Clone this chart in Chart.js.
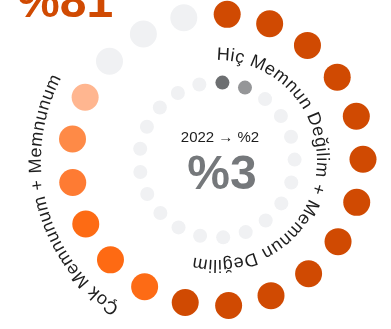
<!DOCTYPE html>
<html lang="tr">
<head>
<meta charset="utf-8">
<script src="https://cdn.jsdelivr.net/npm/chart.js@4"></script>
<style>
  html, body { margin: 0; padding: 0; background: #ffffff; }
  #wrap { width: 391px; height: 329px; overflow: hidden; }
</style>
</head>
<body>
<div id="wrap"><canvas id="dots" width="391" height="329"></canvas></div>
<script>
// Survey answers drawn as two rings of 21 dots each.
const outerCategories = ['Çok Memnunum', 'Memnunum', 'Kararsızım', 'Diğer'];
const outerDots = [12, 5, 1, 3];
const innerCategories = ['Hiç Memnun Değilim', 'Memnun Değilim', 'Diğer'];
const innerDots = [1, 1, 19];

const headlineValue = 81;   // Çok Memnunum + Memnunum
const centerValue = 3;      // Hiç Memnun Değilim + Memnun Değilim
const previousYear = 2022;
const previousValue = 2;

const outerArcLabel = 'Çok Memnunum + Memnunum';
const innerArcLabel = 'Hiç Memnun Değilim + Memnun Değilim';

// Colours for each category (the "Memnunum" group fades dot by dot).
const outerPalette = [
  ['#d04a02'],
  ['#fd6b15', '#fe6a13', '#fd6b14', '#fe7b33', '#fe8a47'],
  ['#ffb690'],
  ['#f0f1f3']
];
const innerPalette = [['#6d6f71'], ['#959698'], ['#f0f1f3']];

function dotColours(counts, palette) {
  const out = [];
  counts.forEach((n, c) => {
    for (let i = 0; i < n; i++) {
      const shades = palette[c];
      out.push(shades[Math.min(i, shades.length - 1)]);
    }
  });
  return out;
}

function ringLabels(counts, categories) {
  const out = [];
  counts.forEach((n, c) => { for (let i = 0; i < n; i++) out.push(categories[c]); });
  return out;
}

const OUTER_LEVEL = 0.9125;
const INNER_LEVEL = 0.485;
const outerColours = dotColours(outerDots, outerPalette);
const innerColours = dotColours(innerDots, innerPalette);
const slotLabels = ringLabels(outerDots, outerCategories);

function ringDataset(label, count, level, colours, radius) {
  return {
    label: label,
    data: new Array(count).fill(level),
    showLine: false,
    borderWidth: 0,
    backgroundColor: 'transparent',
    borderColor: 'transparent',
    pointRadius: radius,
    pointHoverRadius: radius,
    pointBorderWidth: 0,
    pointBackgroundColor: colours,
    pointHoverBackgroundColor: colours,
    clip: false
  };
}

const FONT = "'Liberation Sans', Arial, Helvetica, sans-serif";

// Writes a string clockwise along a circle, letter tops facing outward.
function arcText(ctx, text, cx, cy, radius, startDeg, font, colour, spacing) {
  ctx.save();
  ctx.font = font;
  ctx.fillStyle = colour;
  ctx.textAlign = 'center';
  ctx.textBaseline = 'alphabetic';
  let angle = startDeg * Math.PI / 180;
  for (const ch of text) {
    const w = ctx.measureText(ch).width + spacing;
    const a = angle + (w / 2) / radius;
    ctx.save();
    ctx.translate(cx, cy);
    ctx.rotate(a);
    ctx.fillText(ch, 0, -radius);
    ctx.restore();
    angle += w / radius;
  }
  ctx.restore();
}

const labelsPlugin = {
  id: 'ringText',
  afterDatasetsDraw(chart) {
    const ctx = chart.ctx;
    const r = chart.scales.r;
    const cx = r.xCenter, cy = r.yCenter;

    arcText(ctx, innerArcLabel, cx, cy, r.getDistanceFromCenterForValue(0.625), -0.5,
            '18px ' + FONT, '#1d1d1d', 0.5);
    arcText(ctx, outerArcLabel, cx, cy, r.getDistanceFromCenterForValue(1.1), 213.5,
            '18px ' + FONT, '#1d1d1d', 0.5);

    ctx.save();
    ctx.textAlign = 'center';
    ctx.textBaseline = 'alphabetic';
    ctx.fillStyle = '#1d1d1d';
    ctx.font = '15px ' + FONT;
    ctx.fillText(previousYear + ' \u2192 %' + previousValue, cx + 3, cy - 18);
    ctx.fillStyle = '#75787b';
    ctx.font = 'bold 48px ' + FONT;
    ctx.fillText('%' + centerValue, cx + 5, cy + 29);

    ctx.textAlign = 'left';
    ctx.fillStyle = '#d04a02';
    ctx.font = 'bold 48px ' + FONT;
    ctx.fillText('%' + headlineValue, 17, 17);
    ctx.restore();
  }
};

new Chart(document.getElementById('dots'), {
  type: 'radar',
  data: {
    labels: slotLabels,
    datasets: [
      ringDataset('Dış halka', outerColours.length, OUTER_LEVEL, outerColours, 13.5),
      ringDataset('İç halka', innerColours.length, INNER_LEVEL, innerColours, 7)
    ]
  },
  options: {
    responsive: false,
    animation: false,
    devicePixelRatio: 1,
    layout: { padding: { left: 43, right: 0, top: 0, bottom: 9 } },
    plugins: { legend: { display: false }, tooltip: { enabled: false } },
    events: [],
    scales: {
      r: {
        min: 0,
        max: 1,
        startAngle: 4,
        ticks: { display: false },
        grid: { display: false },
        angleLines: { display: false },
        pointLabels: { display: false }
      }
    }
  },
  plugins: [labelsPlugin]
});
</script>
</body>
</html>
